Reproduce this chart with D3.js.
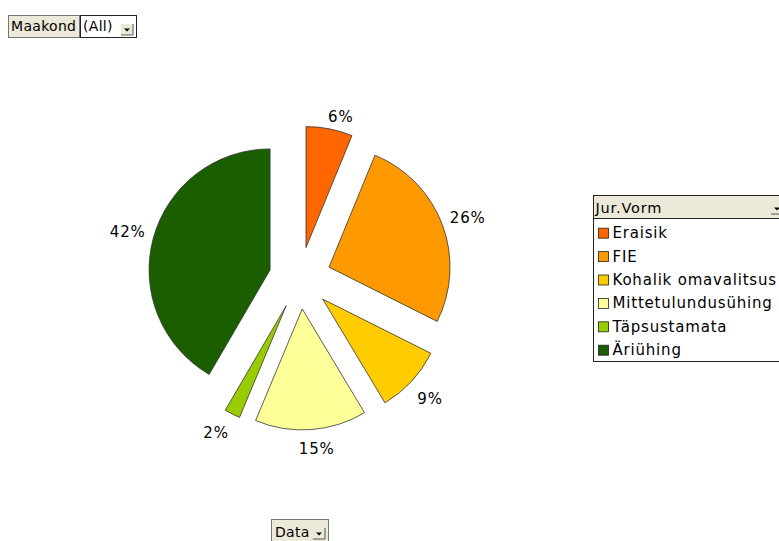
<!DOCTYPE html>
<html lang="et">
<head>
<meta charset="UTF-8">
<title>Jur.Vorm</title>
<style>
    html, body { margin: 0; padding: 0; background: #fff; }
    svg { display: block; font-family: "DejaVu Sans", Verdana, sans-serif; }
</style>
</head>
<body>
<svg id="svg" width="779" height="541"></svg>
<script src="https://d3js.org/d3.v7.min.js"></script>
<script>
    // data (share of total, %)
    const categories = ["Eraisik", "FIE", "Kohalik omavalitsus", "Mittetulundusühing", "Täpsustamata", "Äriühing"];
    const shares = [6.2, 26.2, 9.0, 14.9, 2.1, 41.6];
    const colors = ["#ff6600", "#ff9900", "#ffcc00", "#ffff99", "#99cc00", "#1b5e00"];

    const svg = d3.select('#svg');
    const beige = '#ece9d8';

    const colorScale = d3.scaleOrdinal().domain(categories).range(colors);

    // pie
    const cx = 300, cy = 278;
    const radius = 121;
    const explode = 31;
    const labelDist = radius + 8;

    const pie = d3.pie().sort(null).value(d => d.value);
    const arcs = pie(categories.map((c, i) => ({ key: c, value: shares[i] })));
    const arc = d3.arc().innerRadius(0).outerRadius(radius);
    const total = d3.sum(shares);

    const mid = d => (d.startAngle + d.endAngle) / 2;
    const offset = (d, r) => [Math.sin(mid(d)) * r, -Math.cos(mid(d)) * r];
    const clamp = v => Math.max(-1, Math.min(1, v));

    const g = svg.append('g').attr('transform', `translate(${cx},${cy})`);

    const slice = g.selectAll('g.slice')
        .data(arcs)
        .join('g')
        .attr('class', 'slice')
        .attr('transform', d => `translate(${offset(d, explode)})`);

    slice.append('path')
        .attr('d', arc)
        .attr('fill', d => colorScale(d.data.key))
        .attr('stroke', '#333')
        .attr('stroke-width', 0.8);

    // labels: anchor just outside the rim, box pushed outwards (like Excel does)
    slice.append('text')
        .attr('text-anchor', 'middle')
        .attr('dominant-baseline', 'central')
        .attr('dy', '0.25em')
        .style('font-size', '15px')
        .style('letter-spacing', '0.8px')
        .style('fill', '#000')
        .text(d => Math.round(d.data.value / total * 100) + '%')
        .each(function (d) {
            const bb = this.getBBox();
            const p = offset(d, labelDist);
            const a = mid(d);
            d3.select(this)
                .attr('x', p[0] + bb.width / 2 * clamp(Math.sin(a) * 4))
                .attr('y', p[1] + bb.height / 2 * 0.9 * clamp(-Math.cos(a) * 5));
        });

    // little drop-down arrow button
    function dropArrow(x, y, w, h, bg) {
        svg.append('rect').attr('x', x).attr('y', y).attr('width', w).attr('height', h)
            .attr('fill', bg);
        svg.append('path')
            .attr('d', `M${x + w / 2 - 3},${y + h / 2 - 1} h6 l-3,3 z`)
            .attr('fill', '#000');
        svg.append('line').attr('x1', x).attr('x2', x + w).attr('y1', y + h).attr('y2', y + h)
            .attr('stroke', '#555');
        svg.append('line').attr('x1', x + w).attr('x2', x + w).attr('y1', y).attr('y2', y + h)
            .attr('stroke', '#555');
    }

    const btnText = sel => sel.style('font-size', '14px').style('letter-spacing', '0.3px');

    // page field: Maakond (All)
    svg.append('rect').attr('x', 8.5).attr('y', 15.5).attr('width', 71).attr('height', 22)
        .attr('fill', beige).attr('stroke', '#777');
    svg.append('text').attr('x', 11).attr('y', 31).call(btnText).text('Maakond');
    svg.append('rect').attr('x', 80.5).attr('y', 15.5).attr('width', 56).attr('height', 22)
        .attr('fill', '#fff').attr('stroke', '#222');
    svg.append('text').attr('x', 83).attr('y', 31).call(btnText).text('(All)');
    dropArrow(121, 24, 12, 11, beige);

    // data field button
    svg.append('rect').attr('x', 271.5).attr('y', 519.5).attr('width', 57).attr('height', 24)
        .attr('fill', beige).attr('stroke', '#777');
    svg.append('text').attr('x', 275).attr('y', 537).call(btnText).text('Data');
    dropArrow(313, 528, 12, 11, beige);

    // legend
    const lx = 593.5, ly = 195.5;
    const legendH = 166;
    svg.append('rect').attr('x', lx).attr('y', ly).attr('width', 200).attr('height', legendH)
        .attr('fill', '#fff').attr('stroke', '#222');
    svg.append('rect').attr('x', lx).attr('y', ly).attr('width', 200).attr('height', 23)
        .attr('fill', beige).attr('stroke', '#222');
    svg.append('text').attr('x', lx + 2).attr('y', ly + 17)
        .style('font-size', '14.5px').style('letter-spacing', '0.8px').text('Jur.Vorm');
    dropArrow(771, 203, 12, 11, beige);

    const itemY = d3.scaleBand().domain(categories).range([ly + 26, ly + 166.4]);

    const item = svg.selectAll('g.legend')
        .data(categories)
        .join('g')
        .attr('class', 'legend')
        .attr('transform', d => `translate(${lx + 5},${itemY(d) + itemY.bandwidth() / 2})`);

    item.append('rect')
        .attr('x', 0).attr('y', -5)
        .attr('width', 10).attr('height', 10)
        .attr('fill', colorScale)
        .attr('stroke', '#222').attr('stroke-width', 0.8);

    item.append('text')
        .attr('x', 14).attr('y', 0)
        .attr('dominant-baseline', 'central')
        .style('font-size', '15px')
        .style('letter-spacing', '0.8px')
        .text(d => d);
</script>
</body>
</html>
